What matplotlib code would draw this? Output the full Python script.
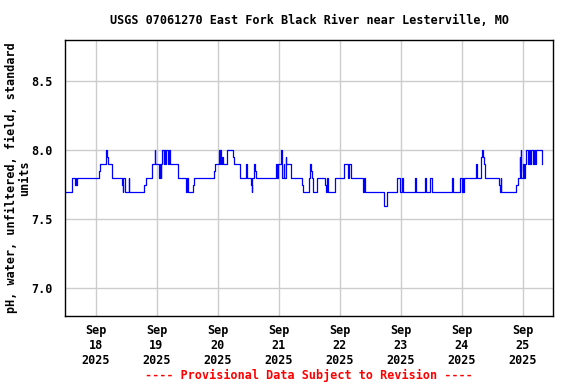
import matplotlib
matplotlib.use('Agg')
import matplotlib.pyplot as plt
from datetime import datetime, timedelta

# pH readings, change points (hours after 2025-09-17 00:00)
hours = [12.2, 14.8, 16.1, 16.4, 16.5, 16.8, 25.3, 25.7, 28.2, 28.7, 29.0, 30.6,
         34.5, 34.7, 35.0, 35.8, 37.1, 37.3, 43.0, 43.7, 46.3, 47.3, 47.6, 48.9,
         49.2, 49.6, 49.9, 50.2, 50.8, 51.0, 51.5, 51.8, 52.4, 52.8, 53.5, 56.4,
         59.8, 60.0, 60.2, 62.3, 62.7, 70.5, 70.9, 72.5, 72.9, 73.0, 73.3, 73.8,
         74.2, 75.7, 78.2, 78.6, 80.8, 83.3, 83.5, 85.0, 85.4, 85.7, 86.3, 86.9,
         87.1, 95.1, 95.3, 95.9, 97.1, 97.3, 97.5, 98.0, 98.25, 98.8, 99.1, 101.1,
         105.1, 105.6, 107.9, 108.3, 108.6, 109.0, 109.6, 111.2, 114.4, 114.8, 115.1, 115.3,
         118.4, 121.7, 123.4, 123.8, 124.6, 129.2, 129.4, 129.7, 130.2, 137.4, 137.6, 138.8,
         142.5, 143.7, 144.7, 145.1, 149.6, 150.0, 153.6, 154.0, 155.8, 156.2, 164.2, 164.5,
         167.6, 168.0, 168.5, 168.7, 169.0, 173.9, 174.2, 175.5, 175.9, 176.3, 176.7, 177.4,
         182.7, 183.1, 183.4, 183.7, 189.6, 190.3, 190.9, 191.2, 191.3, 191.6, 192.0, 192.4,
         192.8, 193.5, 194.0, 194.4, 194.8, 195.2, 196.3, 196.6, 197.1, 197.4, 199.7, 199.8]
ph = [7.7, 7.8, 7.75, 7.8, 7.75, 7.8, 7.85, 7.9, 8.0, 7.95, 7.9, 7.8,
      7.75, 7.7, 7.8, 7.7, 7.8, 7.7, 7.75, 7.8, 7.9, 8.0, 7.9, 7.8,
      7.9, 7.8, 7.9, 8.0, 7.9, 8.0, 7.9, 8.0, 7.9, 8.0, 7.9, 7.8,
      7.7, 7.8, 7.7, 7.75, 7.8, 7.85, 7.9, 8.0, 7.9, 8.0, 7.9, 7.95,
      7.9, 8.0, 7.95, 7.9, 7.8, 7.9, 7.8, 7.75, 7.7, 7.8, 7.9, 7.85,
      7.8, 7.9, 7.8, 7.9, 8.0, 7.9, 7.8, 7.9, 7.8, 7.95, 7.9, 7.8,
      7.75, 7.7, 7.8, 7.9, 7.85, 7.8, 7.7, 7.8, 7.75, 7.7, 7.8, 7.7,
      7.8, 7.9, 7.8, 7.9, 7.8, 7.75, 7.7, 7.8, 7.7, 7.65, 7.6, 7.7,
      7.8, 7.7, 7.8, 7.7, 7.8, 7.7, 7.8, 7.7, 7.8, 7.7, 7.8, 7.7,
      7.8, 7.7, 7.8, 7.7, 7.8, 7.9, 7.8, 7.95, 8.0, 7.95, 7.9, 7.8,
      7.75, 7.7, 7.8, 7.7, 7.75, 7.8, 7.95, 7.85, 8.0, 7.8, 7.9, 7.8,
      7.9, 8.0, 7.9, 8.0, 7.9, 8.0, 7.9, 8.0, 7.9, 8.0, 7.9, 7.9]

tick_days = [18, 19, 20, 21, 22, 23, 24, 25]
y_ticks = [7.0, 7.5, 8.0, 8.5]

start = datetime(2025, 9, 17)
times = [start + timedelta(hours=h) for h in hours]

font = dict(family='DejaVu Sans Mono', weight='bold', size=8.5)

fig = plt.figure(figsize=(5.76, 3.84), dpi=100)
ax = fig.add_axes([65 / 576, 1 - 316 / 384, 488 / 576, 276 / 384])

ax.step(times, ph, where='post', color='#0000ff', lw=0.9)

ax.set_xlim(start + timedelta(hours=12), start + timedelta(hours=204))
ax.set_ylim(6.8, 8.8)
ax.set_yticks(y_ticks)
ax.set_yticklabels([f'{v:.1f}' for v in y_ticks], **font)
ax.set_xticks([datetime(2025, 9, d) for d in tick_days])
ax.set_xticklabels([f'Sep\n{d}\n2025' for d in tick_days], **font)
ax.grid(color='#cccccc', lw=1)
ax.set_axisbelow(True)
ax.tick_params(axis='y', length=0, pad=9)
ax.tick_params(axis='x', length=0, pad=6)
for s in ax.spines.values():
    s.set_color('black')
    s.set_linewidth(1)

fig.text(309 / 576, 1 - 20 / 384, 'USGS 07061270 East Fork Black River near Lesterville, MO',
         ha='center', va='center', **font)
fig.text(18 / 576, 1 - 178 / 384, 'pH, water, unfiltered, field, standard\nunits',
         ha='center', va='center', rotation=90, multialignment='center',
         linespacing=1.0, **font)
fig.text(309 / 576, 1 - 375 / 384, '---- Provisional Data Subject to Revision ----',
         ha='center', va='center', color='red', **font)

fig.savefig('out.png', dpi=100)
